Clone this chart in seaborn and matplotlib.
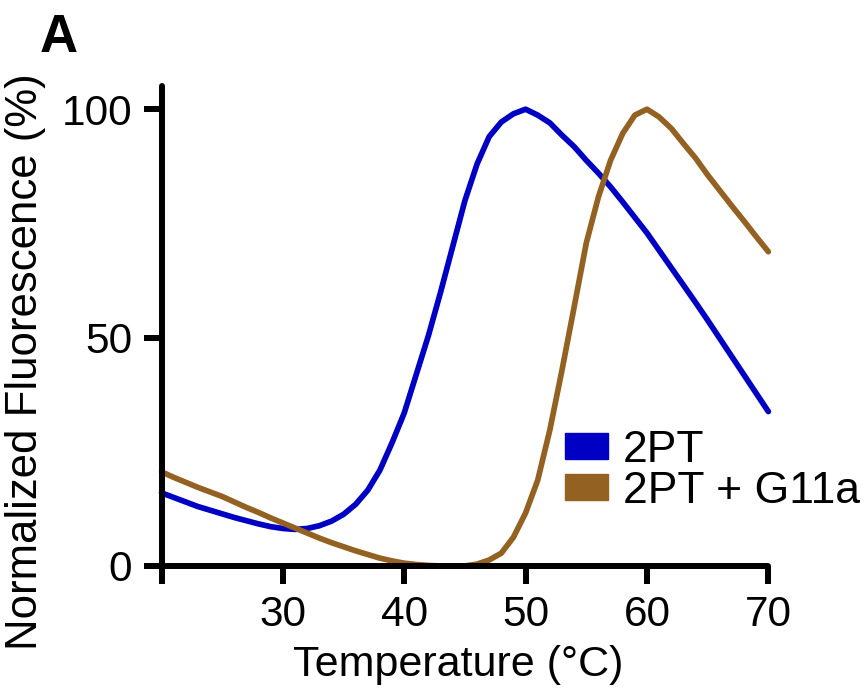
import pandas as pd
import matplotlib.pyplot as plt
import seaborn as sns
from matplotlib.patches import Patch

# temperature steps (°C)
temps = list(range(20, 71))

# normalized fluorescence
fluor_2pt = [16.0, 15.0, 14.0, 13.0, 12.2, 11.4, 10.6, 9.9, 9.2, 8.6,
             8.2, 8.0, 8.2, 8.8, 9.8, 11.3, 13.5, 16.6, 21.0, 27.0,
             33.5, 42.0, 50.5, 60.0, 70.0, 80.0, 88.0, 94.0, 97.2, 99.0,
             100.0, 98.7, 97.0, 94.3, 91.8, 88.8, 86.0, 83.0, 79.7, 76.3,
             72.9, 69.1, 65.3, 61.5, 57.7, 53.8, 49.8, 45.8, 41.8, 37.8,
             33.8]
fluor_g11a = [20.6, 19.4, 18.3, 17.2, 16.2, 15.2, 14.0, 12.8, 11.7, 10.5,
              9.4, 8.3, 7.2, 6.1, 5.1, 4.2, 3.3, 2.5, 1.7, 1.1,
              0.6, 0.3, 0.1, 0.0, 0.0, 0.0, 0.4, 1.3, 2.8, 6.3,
              11.6, 18.8, 29.8, 42.9, 56.7, 70.7, 80.8, 88.8, 94.7, 98.7,
              100.0, 98.3, 95.8, 92.5, 89.3, 85.6, 82.2, 78.8, 75.5, 72.1,
              68.8]

series_names = ['2PT', '2PT + G11a']
colors = ['#0000c4', '#936222']

df = pd.DataFrame({
    'Temperature': temps * 2,
    'Fluorescence': fluor_2pt + fluor_g11a,
    'Sample': [series_names[0]] * len(temps) + [series_names[1]] * len(temps),
})

sns.set_style('ticks')
plt.rcParams['font.family'] = ['Liberation Sans', 'DejaVu Sans']
plt.rcParams['text.color'] = 'black'
plt.rcParams['axes.labelcolor'] = 'black'
plt.rcParams['xtick.color'] = 'black'
plt.rcParams['ytick.color'] = 'black'

fig = plt.figure(figsize=(8.67, 6.91), dpi=100)
ax = fig.add_axes([0.1863, 0.181, 0.6999, 0.694])

sns.lineplot(data=df, x='Temperature', y='Fluorescence', hue='Sample',
             palette=dict(zip(series_names, colors)),
             legend=False, ax=ax)
# thick curves
for line in ax.get_lines():
    line.set_linewidth(4.1)
    line.set_solid_capstyle('round')
    line.set_solid_joinstyle('round')
    line.set_clip_on(False)

ax.set_xlim(20, 70)
ax.set_ylim(0, 105)
ax.set_xticks([20, 30, 40, 50, 60, 70])
ax.set_xticklabels(['', '30', '40', '50', '60', '70'])
ax.set_yticks([0, 50, 100])

sns.despine(ax=ax)
for side in ['left', 'bottom']:
    ax.spines[side].set_linewidth(4.3)
    ax.spines[side].set_color('black')
    ax.spines[side].set_capstyle('round')

ax.tick_params(axis='both', length=13, width=4.3, color='black',
               labelcolor='black', labelsize=30.5, pad=8, direction='out')

ax.set_xlabel('Temperature (°C)', fontsize=31)
ax.set_ylabel('Normalized Fluorescence (%)', fontsize=31.5)
ax.xaxis.set_label_coords(0.489, -0.165)
ax.yaxis.set_label_coords(-0.19, 0.425)

# legend with filled squares
handles = [Patch(facecolor=c, edgecolor=c) for c in colors]
fig.legend(handles, series_names, loc='center left',
           bbox_to_anchor=(0.6517, 0.3184), frameon=False,
           fontsize=32, handlelength=0.97, handleheight=0.52,
           handletextpad=0.34, labelspacing=0.0, borderpad=0,
           borderaxespad=0)

fig.text(0.046, 0.925, 'A', fontsize=38, fontweight='bold')

fig.savefig('out.png', dpi=100, facecolor='white')
